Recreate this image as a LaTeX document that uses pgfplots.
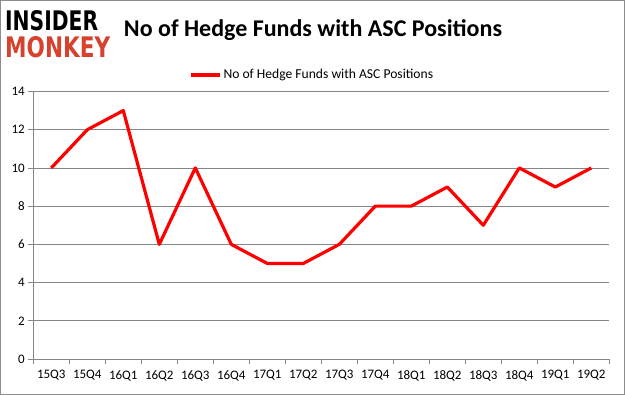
\documentclass[border=0pt]{standalone}
\usepackage{pgfplots}
\pgfplotsset{compat=1.18}
\usepackage{fontspec}
\setmainfont{Carlito}
\newfontfamily\logofont{DejaVu Sans}
\definecolor{gridgray}{RGB}{134,134,134}
\definecolor{framegray}{RGB}{140,140,140}
\definecolor{monkeyred}{RGB}{214,66,46}
\begin{document}
\begin{tikzpicture}[x=1pt,y=1pt]
\draw[framegray, line width=1.2pt] (0.6,0.6) rectangle (624.4,394.4);
\node[anchor=south west, inner sep=0pt] at (5,364) {\resizebox{93pt}{20pt}{\logofont\bfseries INSIDER}};
\node[anchor=south west, inner sep=0pt] at (5,337) {\resizebox{105pt}{21pt}{\logofont\bfseries\color{monkeyred}MONKEY}};
\node[font=\bfseries\fontsize{24}{28}\selectfont] at (313,365) {No of Hedge Funds with ASC Positions};
\begin{axis}[
  at={(33.3pt,36pt)}, anchor=south west,
  scale only axis, width=576pt, height=267.5pt,
  xmin=0, xmax=16, ymin=0, ymax=14,
  axis x line*=bottom, axis y line*=left,
  axis line style={gridgray, line width=0.8pt},
  xtick={0,...,16},
  x tick label as interval,
  xticklabels={15Q3,15Q4,16Q1,16Q2,16Q3,16Q4,17Q1,17Q2,17Q3,17Q4,18Q1,18Q2,18Q3,18Q4,19Q1,19Q2,},
  ytick={0,2,...,14},
  tick align=outside,
  major tick length=5pt,
  tick style={gridgray, line width=0.8pt},
  ymajorgrids,
  grid style={gridgray, line width=0.8pt},
  ticklabel style={font=\fontsize{13}{15}\selectfont},
  /pgf/number format/assume math mode=true,
  xticklabel style={yshift=-3pt},
  legend style={at={(0.484,1.062)}, anchor=center, draw=none, fill=none,
     font=\fontsize{13.6}{15}\selectfont, legend columns=1},
  legend image post style={line width=3.5pt},
  legend image code/.code={\draw[#1] (0pt,0pt) -- (29pt,0pt);},
]
\addplot[red, line width=3.2pt, line join=round] coordinates {
(0.5,10) (1.5,12) (2.5,13) (3.5,6) (4.5,10) (5.5,6) (6.5,5) (7.5,5)
(8.5,6) (9.5,8) (10.5,8) (11.5,9) (12.5,7) (13.5,10) (14.5,9) (15.5,10)
};
\addlegendentry{No of Hedge Funds with ASC Positions}
\end{axis}
\end{tikzpicture}
\end{document}
